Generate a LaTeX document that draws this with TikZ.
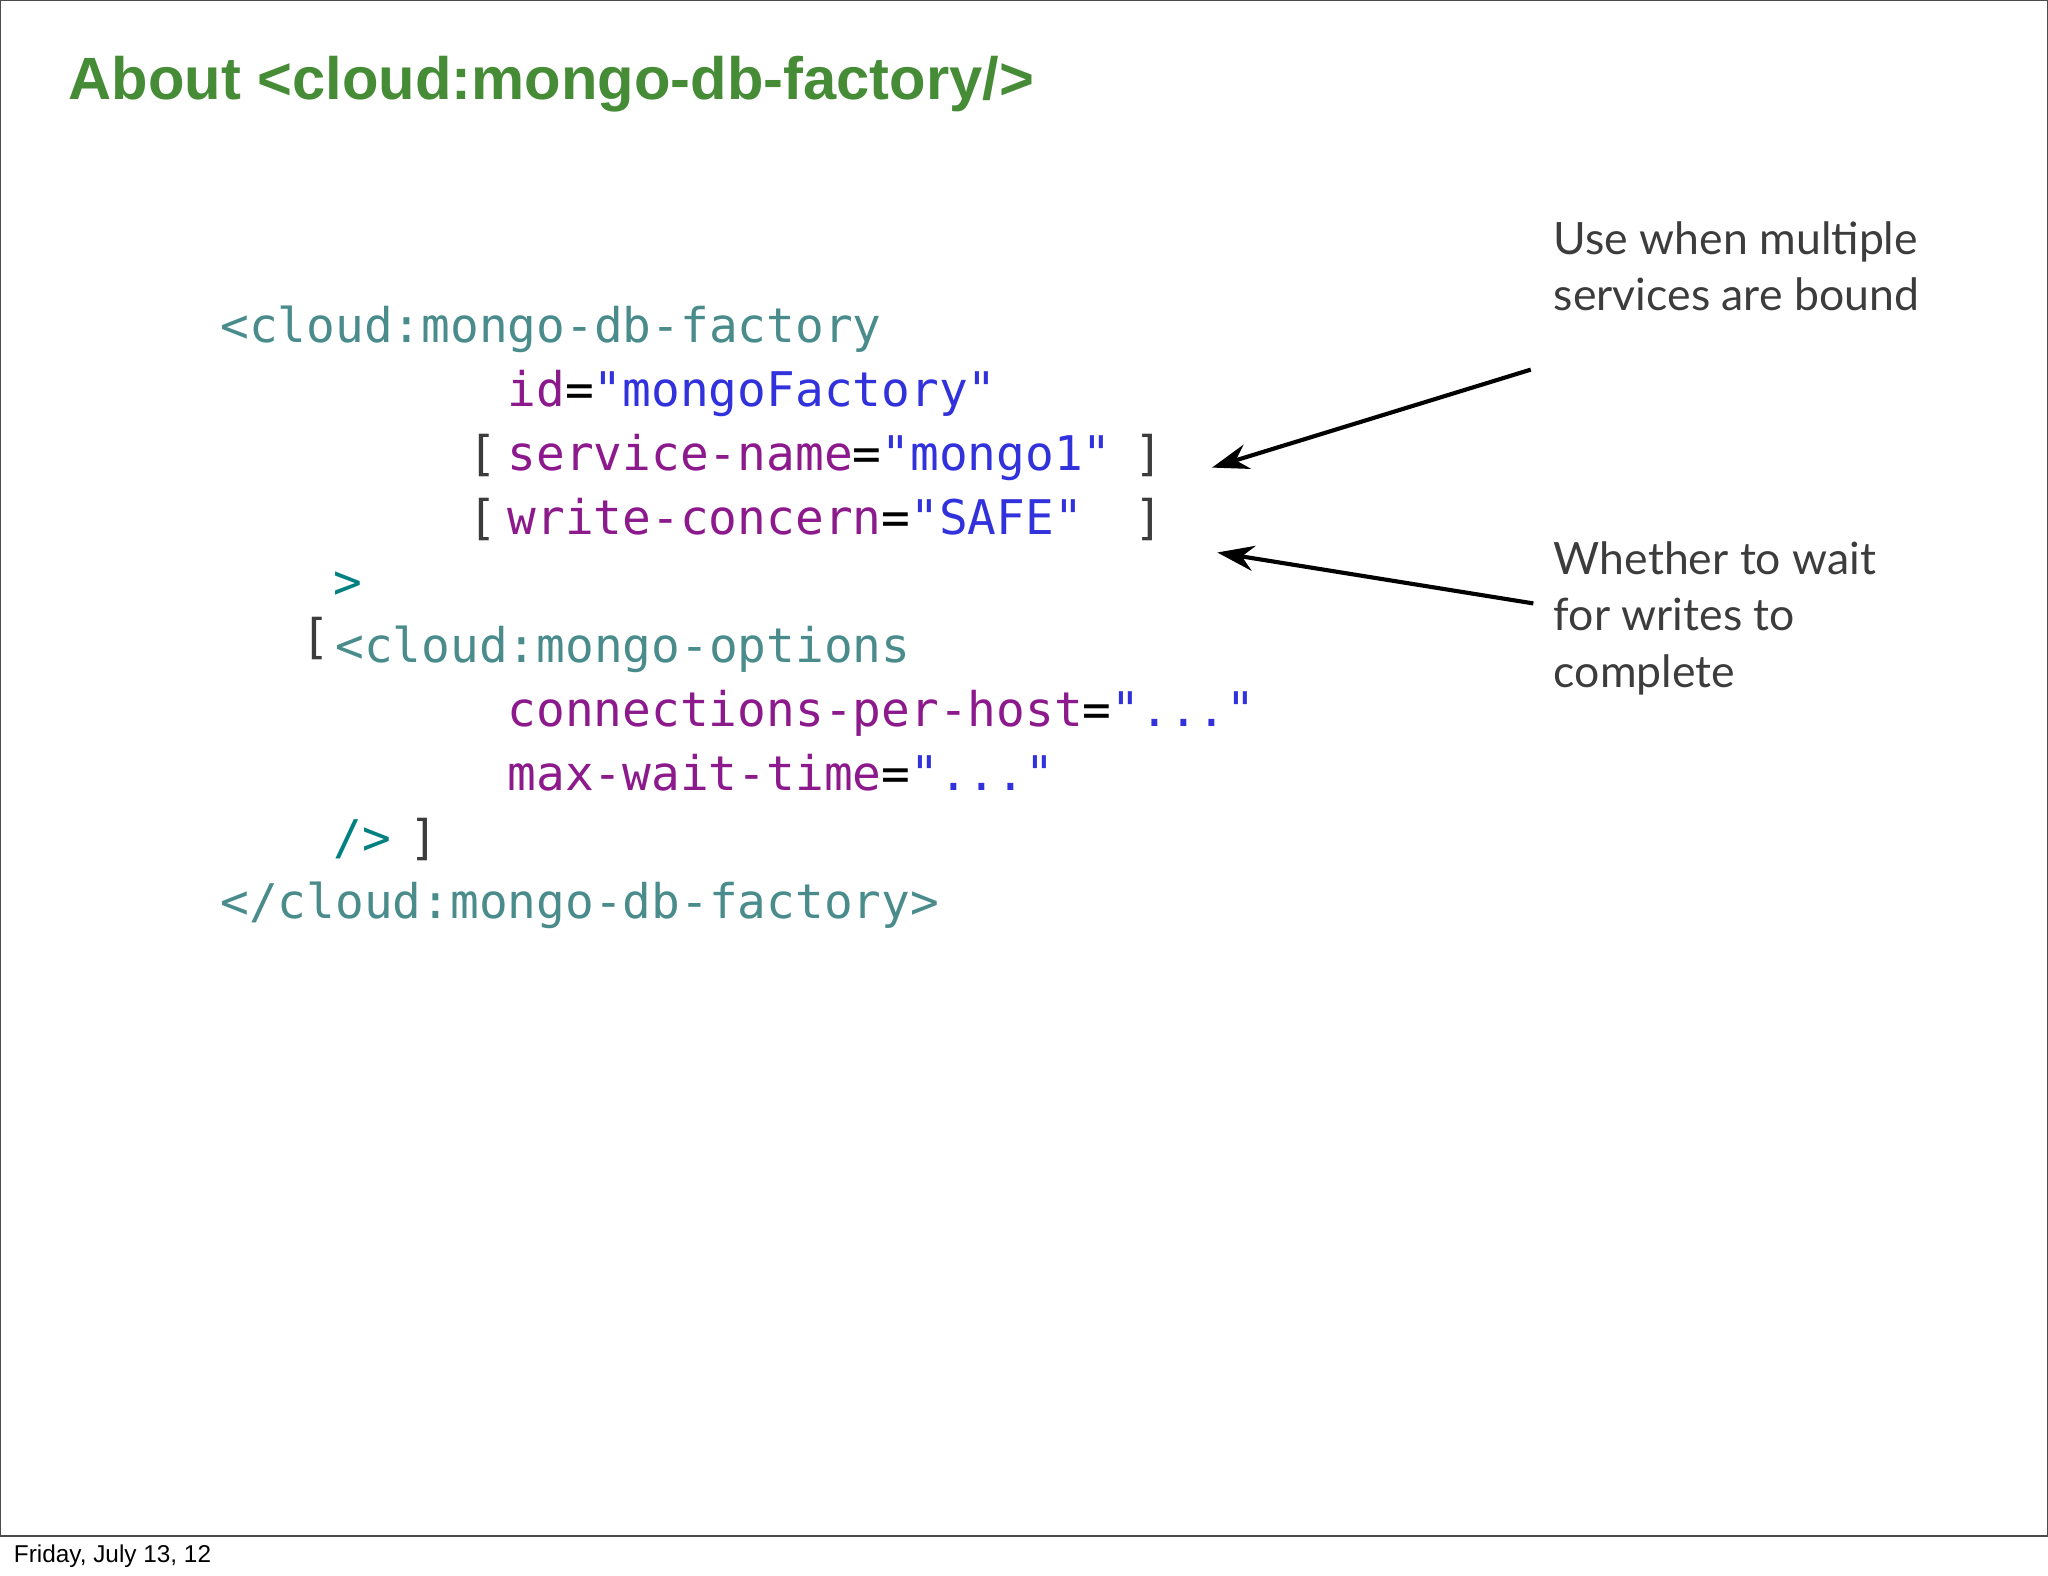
\documentclass[tikz,border=0pt]{standalone}
\usepackage{fontspec}
\setmainfont{Liberation Sans}
\newfontfamily\codefont{DejaVu Sans Mono}
\newfontfamily\notefont{Lato}
\usetikzlibrary{arrows.meta}
\definecolor{tagc}{RGB}{74,140,140}
\definecolor{attc}{RGB}{140,26,140}
\definecolor{valc}{RGB}{50,50,220}
\definecolor{brc}{RGB}{60,60,60}
\definecolor{titlec}{RGB}{70,140,55}
\definecolor{notec}{RGB}{60,60,60}
\begin{document}
\begin{tikzpicture}[x=0.01cm,y=-0.01cm,
  code/.style={anchor=base west,inner sep=0,font=\codefont\fontsize{10.4pt}{12pt}\selectfont},
  note/.style={anchor=base west,inner sep=0,align=left,text=notec,font=\notefont\fontsize{9.7pt}{12.2pt}\selectfont}]
\useasboundingbox (0,0) rectangle (1568,1206);
\draw[black!70,line width=0.6pt] (0,0) rectangle (1568,1176);
\node[anchor=base west,inner sep=0,text=titlec,font=\bfseries\fontsize{13pt}{15pt}\selectfont] (title) at (52,76) {About <cloud:mongo-db-factory/>};
\node[code,text=tagc] (l1) at (168,262) {<cloud:mongo-db-factory};
\node[code] (l2) at (388,311) {\textcolor{attc}{id}=\textcolor{valc}{"mongoFactory"}};
\node[code,text=brc] (b3) at (358,360) {[};
\node[code] (l3) at (388,360) {\textcolor{attc}{service-name}=\textcolor{valc}{"mongo1"}};
\node[code,text=brc] (c3) at (868,360) {]};
\node[code,text=brc] (b4) at (358,409) {[};
\node[code] (l4) at (388,409) {\textcolor{attc}{write-concern}=\textcolor{valc}{"SAFE"}};
\node[code,text=brc] (c4) at (868,409) {]};
\node[code,text=teal] (l5) at (255,458) {>};
\node[code,text=brc] (b6) at (230,500) {[};
\node[code,text=tagc] (l6) at (256,507) {<cloud:mongo-options};
\node[code] (l7) at (388,556) {\textcolor{attc}{connections-per-host}=\textcolor{valc}{"..."}};
\node[code] (l8) at (388,605) {\textcolor{attc}{max-wait-time}=\textcolor{valc}{"..."}};
\node[code,text=teal] (l9) at (255,654) {/>};
\node[code,text=brc] (c9) at (313,654) {]};
\node[code,text=tagc] (l10) at (168,703) {</cloud:mongo-db-factory>};
\node[note] (n1) at (1189,238) {Use when multiple\\services are bound};
\node[note] (n2) at (1189,526) {Whether to wait\\for writes to\\complete};
\coordinate (s1) at (1172,283);
\coordinate (e1) at (928,358);
\coordinate (s2) at (1174,462);
\coordinate (e2) at (932,423);
\draw[-{Stealth[length=8pt,width=5.5pt]},line width=0.9pt] (s1) -- (e1);
\draw[-{Stealth[length=8pt,width=5.5pt]},line width=0.9pt] (s2) -- (e2);
\node[anchor=base west,inner sep=0,font=\fontsize{5.3pt}{6pt}\selectfont] (foot) at (10,1196) {Friday, July 13, 12};
\end{tikzpicture}
\end{document}
